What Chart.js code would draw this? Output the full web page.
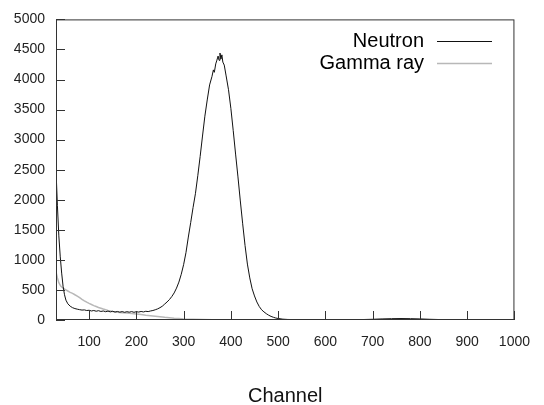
<!DOCTYPE html>
<html>
<head>
<meta charset="utf-8">
<script src="https://cdn.jsdelivr.net/npm/chart.js@4/dist/chart.umd.min.js"></script>
<style>
  html, body { margin: 0; padding: 0; background: #fff; }
  #grafico { display: block; }
</style>
</head>
<body>
<canvas id="grafico" width="544" height="405"></canvas>
<script>
// espectro de canais - nêutron
const canaisNeutron = [
  30, 33, 36, 39, 42, 45, 48, 51, 55, 60, 65, 70, 75, 80, 85, 90, 95, 100,
  105, 110, 115, 120, 125, 130, 135, 140, 145, 150, 155, 160, 165, 170, 175, 180,
  185, 190, 195, 200, 205, 210, 215, 220, 225, 230, 235, 240, 245, 250, 255, 260,
  265, 270, 275, 280, 285, 290, 295, 300, 305, 310, 315, 320, 325, 330, 335, 340,
  345, 350, 355, 360, 363, 365, 368, 370, 373, 375, 377, 379, 381, 383, 386, 390,
  395, 400, 405, 410, 415, 420, 425, 430, 435, 440, 445, 450, 455, 460, 465, 470,
  475, 480, 485, 490, 495, 500, 510, 520, 540, 560, 580, 600, 620, 640, 660, 680,
  700, 720, 740, 760, 780, 800, 820, 840, 860, 880, 900, 920, 940, 960, 980, 1000
];
const contagensNeutron = [
  2500, 1900, 1400, 1050, 780, 560, 420, 330, 270, 230, 205, 190, 180, 172, 165, 168, 158, 162,
  150, 158, 146, 155, 142, 150, 138, 148, 135, 145, 132, 142, 130, 140, 128, 138,
  130, 140, 128, 138, 132, 142, 134, 145, 140, 150, 158, 170, 185, 205, 230, 265,
  300, 340, 390, 450, 530, 630, 760, 920, 1120, 1380, 1620, 1870, 2100, 2400, 2720, 3060,
  3390, 3660, 3910, 4050, 4160, 4120, 4260, 4310, 4390, 4320, 4440, 4340, 4410, 4290, 4240, 4060,
  3830, 3520, 3150, 2760, 2380, 1980, 1600, 1240, 930, 700, 520, 400, 300, 225, 170, 135,
  105, 80, 60, 45, 33, 25, 14, 9, 6, 4, 3, 3, 3, 4, 5, 8,
  12, 18, 22, 24, 22, 18, 12, 8, 5, 3, 2, 2, 1, 1, 1, 0
];

// espectro de canais - raio gama
const canaisGama = [
  30, 33, 36, 40, 45, 50, 55, 60, 65, 70, 75, 80, 85, 90, 95, 100, 105, 110,
  115, 120, 125, 130, 135, 140, 145, 150, 160, 170, 180, 190, 200, 210, 220, 230,
  240, 250, 260, 270, 280, 290, 300, 320, 340, 360, 400, 450, 500, 600, 700, 800, 900, 1000
];
const contagensGama = [
  800, 700, 620, 565, 530, 505, 482, 460, 444, 420, 398, 372, 342, 318, 296, 276, 258, 240,
  224, 208, 196, 182, 172, 160, 152, 142, 130, 122, 115, 108, 100, 90, 80, 72,
  64, 56, 46, 38, 30, 24, 18, 12, 8, 5, 3, 2, 1, 0, 0, 0, 0, 0
];

const ticksX = [100, 200, 300, 400, 500, 600, 700, 800, 900, 1000];
const rotuloX = 'Channel';
const fonte = '"Liberation Sans", Arial, sans-serif';

const paraPontos = (xs, ys) => xs.map((x, i) => ({ x: x, y: ys[i] }));

// ticks para dentro, moldura e legenda (texto antes da linha)
const pluginMoldura = {
  id: 'moldura',
  afterDraw(chart) {
    const ctx = chart.ctx;
    const a = chart.chartArea;
    const sx = chart.scales.x;
    const sy = chart.scales.y;
    ctx.save();
    ctx.strokeStyle = '#333';
    ctx.lineWidth = 1;
    ctx.beginPath();
    sx.ticks.forEach(t => {
      const px = Math.round(sx.getPixelForValue(t.value)) + 0.5;
      ctx.moveTo(px, a.bottom);
      ctx.lineTo(px, a.bottom - 9);
    });
    sy.ticks.forEach(t => {
      const py = Math.round(sy.getPixelForValue(t.value)) + 0.5;
      ctx.moveTo(a.left, py);
      ctx.lineTo(a.left + 9, py);
    });
    ctx.stroke();
    ctx.strokeRect(a.left + 0.5, a.top + 0.5, a.right - a.left - 1, a.bottom - a.top - 1);

    ctx.font = '20px ' + fonte;
    ctx.textAlign = 'right';
    ctx.textBaseline = 'middle';
    chart.data.datasets.forEach((ds, i) => {
      const y = 41 + i * 22;
      ctx.fillStyle = '#000';
      ctx.fillText(ds.label, 424, y);
      ctx.strokeStyle = ds.borderColor;
      ctx.lineWidth = ds.borderWidth;
      ctx.beginPath();
      ctx.moveTo(437, Math.round(y) + 0.5);
      ctx.lineTo(492, Math.round(y) + 0.5);
      ctx.stroke();
    });
    ctx.restore();
  }
};

new Chart(document.getElementById('grafico'), {
  type: 'line',
  data: {
    datasets: [
      {
        label: 'Neutron',
        data: paraPontos(canaisNeutron, contagensNeutron),
        borderColor: '#111',
        borderWidth: 1,
        pointRadius: 0,
        tension: 0,
        fill: false
      },
      {
        label: 'Gamma ray',
        data: paraPontos(canaisGama, contagensGama),
        borderColor: '#b8b8b8',
        borderWidth: 1.5,
        pointRadius: 0,
        tension: 0,
        fill: false
      }
    ]
  },
  options: {
    responsive: false,
    animation: false,
    devicePixelRatio: 1,
    layout: { padding: { left: 0, right: 29, top: 19, bottom: 0 } },
    plugins: { legend: { display: false }, tooltip: { enabled: false } },
    scales: {
      x: {
        type: 'linear',
        min: 30,
        max: 1000,
        afterBuildTicks: s => { s.ticks = ticksX.map(v => ({ value: v })); },
        afterFit: s => { s.height = 85; },
        grid: { display: false, drawTicks: false },
        border: { display: false },
        ticks: {
          color: '#222',
          padding: 14,
          font: { family: fonte, size: 14 },
          callback: v => String(v)
        },
        title: {
          display: true,
          text: rotuloX,
          color: '#111',
          padding: 0,
          font: { family: fonte, size: 20, lineHeight: 0.9 }
        }
      },
      y: {
        min: 0,
        max: 5000,
        ticks: {
          stepSize: 500,
          color: '#222',
          padding: 11,
          font: { family: fonte, size: 14 },
          callback: v => String(v)
        },
        afterFit: s => { s.width = 56; },
        grid: { display: false, drawTicks: false },
        border: { display: false }
      }
    }
  },
  plugins: [pluginMoldura]
});
</script>
</body>
</html>
